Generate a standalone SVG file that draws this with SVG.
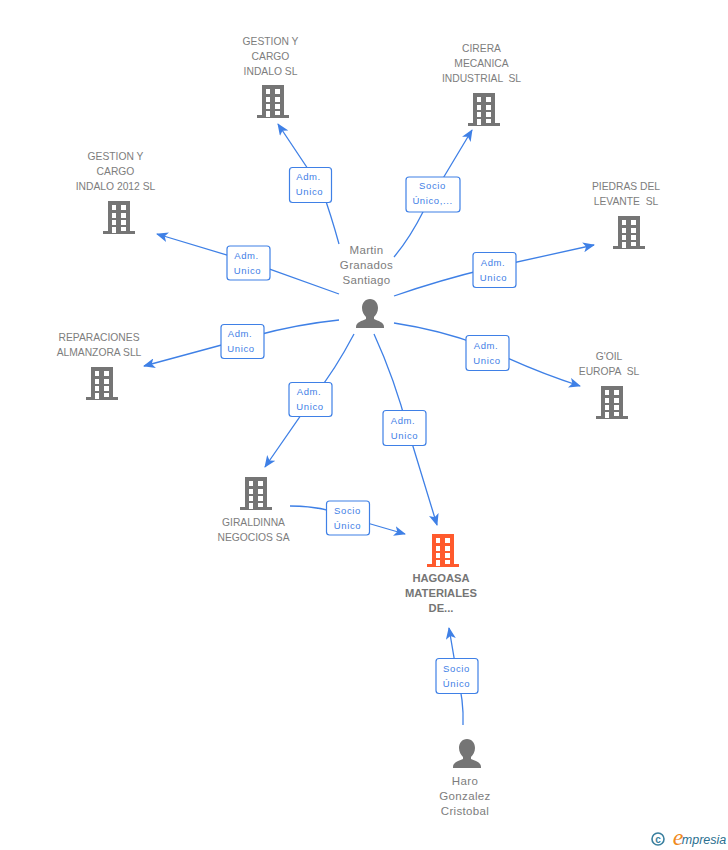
<svg xmlns="http://www.w3.org/2000/svg" width="728" height="850" viewBox="0 0 728 850">
<style>
text{font-family:"Liberation Sans",Arial,sans-serif;font-size:10.3px;fill:#7d7d7d;text-anchor:middle;white-space:pre}
.p{font-size:11.5px;letter-spacing:.35px}
.b{font-weight:bold;font-size:11.2px;fill:#757575}
.l{fill:#3f80e6;font-size:9.5px;letter-spacing:.6px}
.c{fill:none;stroke:#3f80e6;stroke-width:1.3;marker-end:url(#a)}
.r{fill:#fff;stroke:#3f80e6;stroke-width:1.2}
.g{fill:#757575}.o{fill:#ff5a2d}
</style>
<defs>
<marker id="a" viewBox="0 0 12 10" refX="11" refY="5" markerWidth="12" markerHeight="10" markerUnits="userSpaceOnUse" orient="auto"><path d="M0 0L12 5L0 10L3 5Z" fill="#3f80e6"/></marker>
<path id="bld" fill-rule="evenodd" d="M5 0H27V30H32V33H0V30H5ZM9 4V9H13V4ZM18 4V9H23V4ZM9 12V17H13V12ZM18 12V17H23V12ZM9 19V24H13V19ZM18 19V24H23V19ZM9 26V32H13V26ZM18 26V30H23V26Z"/>
<path id="usr" d="M14 0C19 0 22 4 22 9C22 13 20 16 18 18V20C22 22 28 23 28 28V29H0V28C0 23 6 22 10 20V18C8 16 6 13 6 9C6 4 9 0 14 0Z"/>
</defs>
<g id="connectors">
<path class="c" d="M339 244Q331 215 322 190L278 124"/>
<path class="c" d="M394 257Q410 238 424 210L472 130"/>
<path class="c" d="M394 296Q440 280 490 268L594 245"/>
<path class="c" d="M394 323Q440 330 480 345Q530 370 580 386"/>
<path class="c" d="M374 334Q395 380 408 430L437 525"/>
<path class="c" d="M354 334Q335 370 315 395L265 467"/>
<path class="c" d="M339 320Q290 325 240 340L144 366"/>
<path class="c" d="M339 294Q300 280 250 262L157 234"/>
<path class="c" d="M290 506Q325 506 350 518L405 534"/>
<path class="c" d="M463 725Q464 700 457 675L449 628"/>
</g>
<g id="n-gestion"><use href="#bld" class="g" x="257" y="85"/><text x="270.5" y="45">GESTION Y</text><text x="270.5" y="60">CARGO</text><text x="270.5" y="75">INDALO SL</text></g>
<g id="n-cirera"><use href="#bld" class="g" x="468" y="93"/><text x="481.5" y="52">CIRERA</text><text x="481.5" y="67">MECANICA</text><text x="481.5" y="82">INDUSTRIAL  SL</text></g>
<g id="n-gestion2012"><use href="#bld" class="g" x="103" y="201"/><text x="115.5" y="160">GESTION Y</text><text x="115.5" y="175">CARGO</text><text x="115.5" y="190">INDALO 2012 SL</text></g>
<g id="n-piedras"><use href="#bld" class="g" x="613" y="216"/><text x="626" y="190">PIEDRAS DEL</text><text x="626" y="205">LEVANTE  SL</text></g>
<g id="n-reparaciones"><use href="#bld" class="g" x="86" y="367"/><text x="99" y="341">REPARACIONES</text><text x="99" y="356">ALMANZORA SLL</text></g>
<g id="n-goil"><use href="#bld" class="g" x="596" y="386"/><text x="609" y="360">G'OIL</text><text x="609" y="375">EUROPA  SL</text></g>
<g id="n-giraldinna"><use href="#bld" class="g" x="240" y="477"/><text x="253.5" y="526">GIRALDINNA</text><text x="253.5" y="541">NEGOCIOS SA</text></g>
<g id="n-hagoasa"><use href="#bld" class="o" x="427" y="534"/><text class="b" x="441" y="582">HAGOASA</text><text class="b" x="441" y="597">MATERIALES</text><text class="b" x="441" y="612">DE...</text></g>
<g id="n-martin"><use href="#usr" class="g" x="356" y="299"/><text class="p" x="366.5" y="254">Martin</text><text class="p" x="366.5" y="269">Granados</text><text class="p" x="366.5" y="284">Santiago</text></g>
<g id="n-haro"><use href="#usr" class="g" x="453" y="739"/><text class="p" x="465" y="785">Haro</text><text class="p" x="465" y="800">Gonzalez</text><text class="p" x="465" y="815">Cristobal</text></g>
<g id="l1"><rect class="r" x="289.500" y="167.500" width="42" height="35" rx="3"/><text class="l" x="308.500" y="180">Adm.</text><text class="l" x="309.500" y="195">Unico</text></g>
<g id="l2"><rect class="r" x="406" y="177" width="54" height="35" rx="3"/><text class="l" x="432.500" y="189">Socio</text><text class="l" x="432.500" y="204">Único,...</text></g>
<g id="l3"><rect class="r" x="473" y="252.500" width="43" height="35" rx="3"/><text class="l" x="493" y="266">Adm.</text><text class="l" x="493.500" y="281">Unico</text></g>
<g id="l4"><rect class="r" x="227" y="246" width="43" height="34" rx="3"/><text class="l" x="246.500" y="259">Adm.</text><text class="l" x="247.500" y="274">Unico</text></g>
<g id="l5"><rect class="r" x="221" y="324.500" width="43" height="34" rx="3"/><text class="l" x="240" y="337">Adm.</text><text class="l" x="241" y="352">Unico</text></g>
<g id="l6"><rect class="r" x="466" y="335.500" width="43" height="35" rx="3"/><text class="l" x="486" y="349">Adm.</text><text class="l" x="487" y="364">Unico</text></g>
<g id="l7"><rect class="r" x="289" y="382.500" width="43" height="34" rx="3"/><text class="l" x="309" y="395">Adm.</text><text class="l" x="310" y="410">Unico</text></g>
<g id="l8"><rect class="r" x="383" y="410.500" width="43" height="35" rx="3"/><text class="l" x="403" y="424">Adm.</text><text class="l" x="404.500" y="439">Unico</text></g>
<g id="l9"><rect class="r" x="326.500" y="501" width="43" height="34" rx="3"/><text class="l" x="347.500" y="514">Socio</text><text class="l" x="347.500" y="529">Único</text></g>
<g id="l10"><rect class="r" x="436" y="658.500" width="42" height="35" rx="3"/><text class="l" x="456.500" y="672">Socio</text><text class="l" x="456.500" y="687">Único</text></g>
<g id="brand"><circle cx="658" cy="839" r="6" fill="none" stroke="#3a7f9e" stroke-width="1.6"/><text x="658" y="842.500" style="font-size:10px;font-weight:bold;fill:#3a7f9e">c</text><text x="678" y="845" style="font-family:'Liberation Serif',serif;font-style:italic;font-size:24px;fill:#f08a1d">e</text><text x="704" y="844" style="font-style:italic;font-size:12.500px;fill:#2a6f8f">mpresia</text></g>
</svg>
